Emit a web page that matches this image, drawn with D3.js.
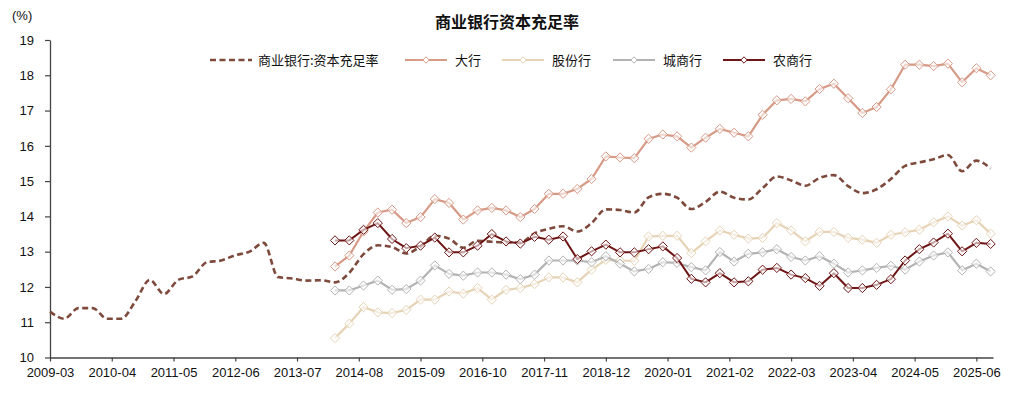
<!DOCTYPE html>
<html>
<head>
<meta charset="utf-8">
<script src="https://cdn.jsdelivr.net/npm/d3@7"></script>
<style>
  body { margin: 0; background: #fff; }
  svg { display: block; font-family: "Liberation Sans", "Noto Sans CJK SC", sans-serif; }
</style>
</head>
<body>
<script>
// quarterly data, 2009-03 .. 2025-09
const startYear = 2009;
const xTickLabels = ["2009-03", "2010-04", "2011-05", "2012-06", "2013-07", "2014-08", "2015-09",
  "2016-10", "2017-11", "2018-12", "2020-01", "2021-02", "2022-03", "2023-04", "2024-05", "2025-06"];
const yTicks = [10, 11, 12, 13, 14, 15, 16, 17, 18, 19];

// 商业银行:资本充足率, from 2009-03
const commercial = [
  11.3, 11.1, 11.4, 11.4,
  11.1, 11.1, 11.6, 12.2,
  11.8, 12.2, 12.3, 12.7,
  12.75, 12.9, 13.0, 13.25,
  12.28, 12.24, 12.18, 12.19,
  12.13, 12.40, 12.93, 13.18,
  13.13, 12.95, 13.15, 13.45,
  13.37, 13.11, 13.31, 13.28,
  13.26, 13.26, 13.52, 13.65,
  13.72, 13.57, 13.81, 14.20,
  14.18, 14.11, 14.54, 14.64,
  14.53, 14.21, 14.41, 14.70,
  14.53, 14.48, 14.80, 15.13,
  15.02, 14.87, 15.09, 15.17,
  14.86, 14.66, 14.77, 15.06,
  15.43, 15.53, 15.62, 15.74,
  15.28, 15.58, 15.36
];

// the four bank groups start at 2014-03
const bigBanks = [
  12.58, 12.89, 13.57, 14.11,
  14.19, 13.81, 13.98, 14.49,
  14.38, 13.91, 14.17, 14.24,
  14.17, 13.98, 14.21, 14.64,
  14.64, 14.78, 15.06, 15.70,
  15.67, 15.65, 16.20, 16.32,
  16.27, 15.95, 16.23, 16.48,
  16.37, 16.27, 16.88, 17.29,
  17.33, 17.26, 17.61, 17.76,
  17.35, 16.93, 17.10, 17.60,
  18.30, 18.30, 18.26, 18.33,
  17.80, 18.20, 18.00
];
const jointStock = [
  10.55, 10.96, 11.43, 11.28,
  11.26, 11.35, 11.64, 11.64,
  11.87, 11.81, 11.97, 11.64,
  11.92, 11.97, 12.08, 12.27,
  12.27, 12.13, 12.49, 12.77,
  12.75, 12.74, 13.43, 13.45,
  13.45, 12.96, 13.29, 13.60,
  13.48, 13.37, 13.39, 13.81,
  13.60, 13.29, 13.56, 13.56,
  13.39, 13.34, 13.25, 13.48,
  13.55, 13.62, 13.83, 14.00,
  13.74, 13.89, 13.51
];
const cityBanks = [
  11.90, 11.90, 12.04, 12.18,
  11.92, 11.94, 12.18, 12.61,
  12.37, 12.32, 12.41, 12.41,
  12.35, 12.22, 12.35, 12.75,
  12.75, 12.75, 12.70, 12.87,
  12.66, 12.44, 12.51, 12.70,
  12.68, 12.56, 12.47, 12.99,
  12.72, 12.94, 12.98, 13.07,
  12.85, 12.75, 12.87, 12.66,
  12.41, 12.47, 12.54, 12.60,
  12.49, 12.72, 12.89, 12.98,
  12.47, 12.66, 12.44
];
const ruralBanks = [
  13.32, 13.32, 13.62, 13.81,
  13.36, 13.10, 13.17, 13.40,
  12.98, 12.98, 13.17, 13.50,
  13.29, 13.23, 13.42, 13.34,
  13.43, 12.79, 13.01, 13.20,
  12.98, 12.98, 13.07, 13.15,
  12.82, 12.23, 12.13, 12.39,
  12.13, 12.16, 12.49, 12.54,
  12.35, 12.25, 12.03, 12.39,
  11.97, 11.97, 12.06, 12.22,
  12.75, 13.07, 13.26, 13.51,
  13.01, 13.25, 13.22
];

const seriesNames = ["商业银行:资本充足率", "大行", "股份行", "城商行", "农商行"];
const colors = ["#7d4a3c", "#d69a86", "#e6d3b6", "#b3b3b3", "#6e1616"];

const width = 1015;
const height = 395;

const svg = d3.select("body").append("svg")
    .attr("width", width)
    .attr("height", height);

svg.append("rect").attr("width", width).attr("height", height).attr("fill", "#fff");

// x in months since 2009-03
const x = d3.scaleLinear().domain([0, 198.5]).range([50, 993]);
const y = d3.scaleLinear().domain([10, 19]).range([357.5, 40]);

const tickMonths = xTickLabels.map(s => (+s.slice(0, 4) - startYear) * 12 + (+s.slice(5) - 3));

const xAxis = svg.append("g")
    .attr("transform", `translate(0,${y(10)})`)
    .call(d3.axisBottom(x)
        .tickValues(tickMonths)
        .tickFormat((d, i) => xTickLabels[i])
        .tickSize(4)
        .tickSizeOuter(0)
        .tickPadding(6.5));

const yAxis = svg.append("g")
    .attr("transform", `translate(${x(0)},0)`)
    .call(d3.axisLeft(y)
        .tickValues(yTicks)
        .tickSize(5)
        .tickSizeOuter(0)
        .tickPadding(11));

[xAxis, yAxis].forEach(g => {
    g.select(".domain").attr("stroke", "#444").attr("stroke-width", 1.3);
    g.selectAll(".tick line").attr("stroke", "#444").attr("stroke-width", 1.2);
    g.selectAll(".tick text")
        .attr("fill", "#111")
        .attr("font-size", 13)
        .attr("font-family", "Liberation Sans, sans-serif");
});

// unit
svg.append("text")
    .attr("x", 12).attr("y", 20)
    .attr("font-size", 13)
    .attr("fill", "#111")
    .text("(%)");

// title
svg.append("text")
    .attr("x", 507).attr("y", 28)
    .attr("text-anchor", "middle")
    .attr("font-size", 16)
    .attr("font-weight", "bold")
    .attr("font-family", "Noto Sans CJK SC, sans-serif")
    .attr("fill", "#111")
    .text("商业银行资本充足率");

const toPoints = (vals, startM) => vals.map((v, i) => ({ m: startM + i * 3, v: v }));

const allSeries = [
    toPoints(commercial, 0),
    toPoints(bigBanks, 60),
    toPoints(jointStock, 60),
    toPoints(cityBanks, 60),
    toPoints(ruralBanks, 60)
];

const lineSmooth = d3.line().x(d => x(d.m)).y(d => y(d.v)).curve(d3.curveMonotoneX);
const lineStraight = d3.line().x(d => x(d.m)).y(d => y(d.v));

const diamond = r => `M0,${-r}L${r},0L0,${r}L${-r},0Z`;

allSeries.forEach((pts, k) => {
    const g = svg.append("g");
    g.append("path")
        .attr("d", k === 0 ? lineSmooth(pts) : lineStraight(pts))
        .attr("fill", "none")
        .attr("stroke", colors[k])
        .attr("stroke-width", k === 0 ? 2.6 : (k === 4 ? 2 : 2.2))
        .attr("stroke-dasharray", k === 0 ? "6,3.5" : null)
        .attr("stroke-linejoin", "round");
    if (k > 0) {
        g.selectAll("path.mk")
            .data(pts)
            .enter().append("path")
            .attr("class", "mk")
            .attr("transform", d => `translate(${x(d.m)},${y(d.v)})`)
            .attr("d", diamond(4.6))
            .attr("fill", "#fff")
            .attr("fill-opacity", 0.6)
            .attr("stroke", colors[k])
            .attr("stroke-width", 1);
    }
});

// legend
const legendX = [210, 405, 502, 613, 723];
const legend = svg.append("g").attr("transform", "translate(0,60)");
seriesNames.forEach((name, k) => {
    const lx = legendX[k];
    legend.append("line")
        .attr("x1", lx).attr("x2", lx + 42)
        .attr("y1", 0).attr("y2", 0)
        .attr("stroke", colors[k])
        .attr("stroke-width", k === 0 ? 2.6 : 2.2)
        .attr("stroke-dasharray", k === 0 ? "6,3.5" : null);
    if (k > 0) {
        legend.append("path")
            .attr("transform", `translate(${lx + 21},0)`)
            .attr("d", diamond(3.2))
            .attr("fill", "#fff")
            .attr("stroke", colors[k])
            .attr("stroke-width", 1);
    }
    legend.append("text")
        .attr("x", lx + (k === 0 ? 48 : 50))
        .attr("y", 0)
        .attr("dy", "0.35em")
        .attr("font-size", 13)
        .attr("font-family", "Noto Sans CJK SC, sans-serif")
        .attr("fill", "#111")
        .text(name);
});
</script>
</body>
</html>
